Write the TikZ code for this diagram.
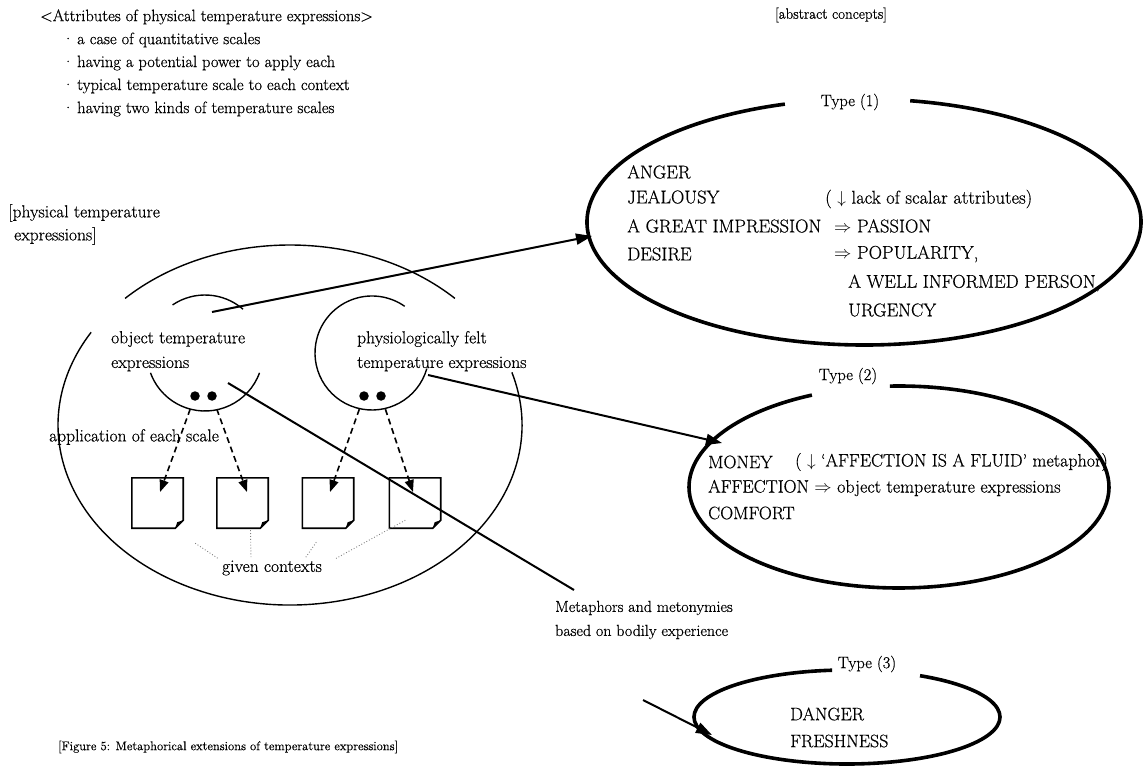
\documentclass[tikz,border=0pt]{standalone}
\usepackage{fontspec}
\setmainfont{Latin Modern Roman}[FakeBold=0.5]
\usetikzlibrary{arrows.meta,calc}
\begin{document}
\begin{tikzpicture}[x=1pt,y=-1pt,
  lbl/.style={anchor=west,inner sep=0pt,font=\fontsize{18.5}{20}\selectfont},
  lbltwo/.style={anchor=west,inner sep=0pt,font=\fontsize{18}{20}\selectfont},
  typelbl/.style={anchor=center,inner sep=0pt,font=\fontsize{16.5}{18}\selectfont},
  toptxt/.style={anchor=west,inner sep=0pt,font=\fontsize{16.5}{18}\selectfont},
  abstxt/.style={anchor=center,inner sep=0pt,font=\fontsize{15}{17}\selectfont},
  lefttxt/.style={anchor=west,inner sep=0pt,font=\fontsize{17.5}{19}\selectfont},
  midtxt/.style={anchor=west,inner sep=0pt,font=\fontsize{16}{18}\selectfont},
  captxt/.style={anchor=west,inner sep=0pt,font=\fontsize{12.6}{15}\selectfont},
  ell/.style={line width=3.6pt},
  arcln/.style={line width=1.4pt},
  conn/.style={line width=2pt},
  arr/.style={conn,-{Triangle[length=16pt,width=11pt]}},
  dsh/.style={line width=1.6pt,dash pattern=on 6pt off 4pt,-{Triangle[length=12pt,width=9pt]}},
  ctxbox/.style={inner sep=0pt,minimum width=51pt,minimum height=50pt},
  boxln/.style={line width=1.6pt,line join=miter},
  ptdot/.style={circle,fill,inner sep=0pt,minimum size=9.5pt},
  gdot/.style={gray,line width=0.9pt,dotted}
]
\useasboundingbox (0,0) rectangle (1144,778);

% ---------- top-left attribute list ----------
\node[toptxt] (title) at (40,17) {\textless Attributes of physical temperature expressions\textgreater};
\node[toptxt] (b1) at (62,40) {\makebox[15pt][l]{\textperiodcentered}a case of quantitative scales};
\node[toptxt] (b2) at (62,63) {\makebox[15pt][l]{\textperiodcentered}having a potential power to apply each};
\node[toptxt] (b3) at (62,86) {\makebox[15pt][l]{\textperiodcentered}typical temperature scale to each context};
\node[toptxt] (b4) at (62,109) {\makebox[15pt][l]{\textperiodcentered}having two kinds of temperature scales};

\node[abstxt] (abs) at (831,15) {[abstract concepts]};

% ---------- Type (1) ----------
\coordinate (T1c) at (864,222);
\node[typelbl] (ty1) at (850,102) {Type (1)};
\draw[ell] (T1c) ++(279.6:277 and 123) arc[start angle=279.6,end angle=613.4,x radius=277,y radius=123];
\node[lbl] (anger) at (627,172) {ANGER};
\node[lbl] (jeal) at (627,197) {JEALOUSY};
\node[lbl] (lack) at (825,199) {( $\downarrow$ lack of scalar attributes)};
\node[lbl] (agi) at (627,226) {A GREAT IMPRESSION};
\node[lbl] (pass) at (834,226) {$\Rightarrow$ PASSION};
\node[lbl] (des) at (627,254) {DESIRE};
\node[lbl] (pop) at (834,254) {$\Rightarrow$ POPULARITY,};
\node[lbl] (wip) at (848,283) {A WELL INFORMED PERSON,};
\node[lbl] (urg) at (848,310) {URGENCY};

% ---------- Type (2) ----------
\coordinate (T2c) at (899,487);
\node[typelbl] (ty2) at (848,376) {Type (2)};
\draw[ell] (T2c) ++(267.5:210 and 101) arc[start angle=267.5,end angle=605.5,x radius=210,y radius=101];
\node[lbltwo] (money) at (708,462) {MONEY};
\node[lbltwo] (fluid) at (795,462) {( $\downarrow$ `AFFECTION IS A FLUID' metaphor)};
\node[lbltwo] (aff) at (708,488) {AFFECTION $\Rightarrow$ object temperature expressions};
\node[lbltwo] (comf) at (708,513) {COMFORT};

% ---------- Type (3) ----------
\coordinate (T3c) at (847,717);
\node[typelbl] (ty3) at (867,664) {Type (3)};
\draw[ell] (T3c) ++(298.5:153 and 47) arc[start angle=298.5,end angle=624.4,x radius=153,y radius=47];
\node[lbltwo] (dang) at (790,714) {DANGER};
\node[lbltwo] (fresh) at (790,741) {FRESHNESS};

% ---------- physical temperature expressions ----------
\node[lefttxt] (phys1) at (8,213) {[physical temperature};
\node[lefttxt] (phys2) at (14,236) {expressions]};
\coordinate (Oc) at (290,425);
\draw[arcln] (Oc) ++(224.7:232 and 180) arc[start angle=224.7,end angle=315.3,x radius=232,y radius=180];
\draw[arcln] (Oc) ++(343:232 and 180) arc[start angle=343,end angle=571,x radius=232,y radius=180];

\node[lefttxt] (ot1) at (111,339) {object temperature};
\node[lefttxt] (ot2) at (111,364) {expressions};
\node[lefttxt] (pf1) at (357,339) {physiologically felt};
\node[lefttxt] (pf2) at (357,364) {temperature expressions};

\coordinate (Lc) at (205,353);
\draw[arcln] (Lc) ++(236:58 and 58) arc[start angle=236,end angle=311,radius=58];
\draw[arcln] (Lc) ++(20:58 and 58) arc[start angle=20,end angle=160,radius=58];
\coordinate (Rc) at (372,353);
\draw[arcln] (Rc) ++(16:57 and 57) arc[start angle=16,end angle=305,radius=57];

\node[ptdot] (d1) at (195,396) {};
\node[ptdot] (d2) at (212,396) {};
\node[ptdot] (d3) at (364,396) {};
\node[ptdot] (d4) at (381,396) {};

\node[lefttxt] (app) at (49,437) {application of each scale};

\foreach \i/\x in {1/157.5,2/242.5,3/328,4/415}{
  \node[ctxbox] (s\i) at (\x,503) {};
  \draw[boxln] (s\i.north west) -- (s\i.north east) -- ($(s\i.south east)+(0,-8)$) -- ($(s\i.south east)+(-8,0)$) -- (s\i.south west) -- cycle;
  \fill ($(s\i.south east)+(0,-8)$) -- ($(s\i.south east)+(-8,0)$) -- ($(s\i.south east)+(-6,-6)$) -- cycle;
}
\coordinate (t1) at (160,492);
\coordinate (t2) at (247,492);
\coordinate (t3) at (330,492);
\coordinate (t4) at (413,492);
\draw[dsh,shorten <=9pt] (d1) -- (t1);
\draw[dsh,shorten <=9pt] (d2) -- (t2);
\draw[dsh,shorten <=9pt] (d3) -- (t3);
\draw[dsh,shorten <=9pt] (d4) -- (t4);

\node[lefttxt,anchor=center] (gc) at (272,568) {given contexts};
\draw[gdot] ($(s1.south east)+(12,15)$) -- ($(gc.north west)+(-4,-2)$);
\draw[gdot] ($(s2.south)+(8,2)$) -- ($(gc.north)+(-21,-2)$);
\draw[gdot] ($(s3.south west)+(14,14)$) -- ($(gc.north)+(33,-2)$);
\draw[gdot] ($(s4.south west)+(16,-8)$) -- ($(gc.north east)+(14,-2)$);

% ---------- connectors ----------
\coordinate (otA) at (212,312);
\coordinate (T1in) at (592,236);
\draw[arr] (otA) -- (T1in);
\coordinate (pfA) at (428,375);
\coordinate (T2in) at (722,443);
\draw[arr] (pfA) -- (T2in);
\coordinate (longA) at (228,383);
\coordinate (longB) at (574,590);
\draw[conn] (longA) -- (longB);

\node[midtxt] (mm1) at (555,608) {Metaphors and metonymies};
\node[midtxt] (mm2) at (555,632) {based on bodily experience};
\coordinate (mmA) at (643,700);
\coordinate (T3in) at (712,735);
\draw[arr] (mmA) -- (T3in);

\node[captxt] (cap) at (58,747) {[Figure 5: Metaphorical extensions of temperature expressions]};
\end{tikzpicture}
\end{document}
